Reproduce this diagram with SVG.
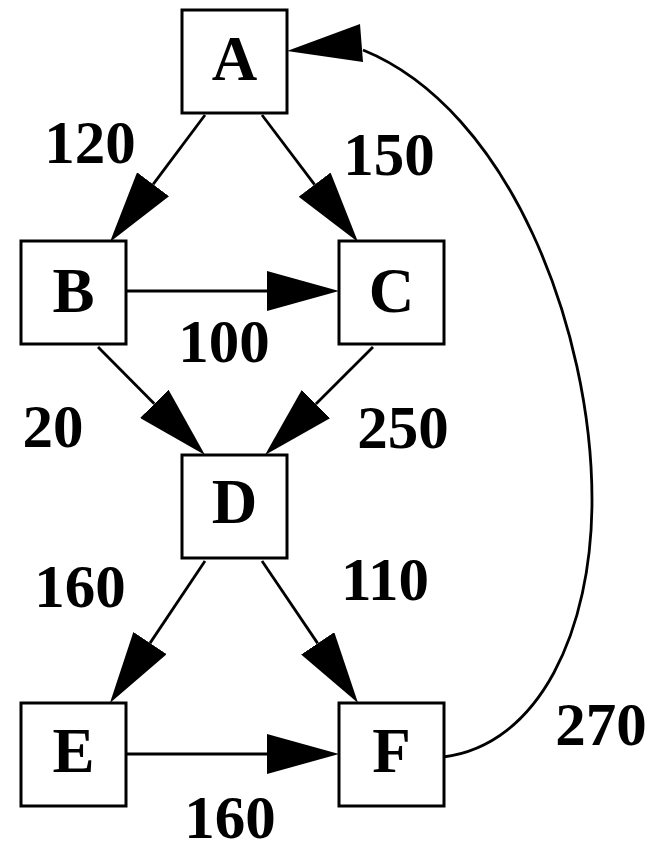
<svg xmlns="http://www.w3.org/2000/svg" width="666" height="851" viewBox="0 0 666 851">
<style>
.node rect{fill:#fff;stroke:#000;stroke-width:3}
.node text{font-family:"Liberation Serif","Times New Roman",serif;font-weight:bold;font-size:63px;text-anchor:middle;fill:#000}
.edge line,.edge path{stroke:#000;stroke-width:2.8;fill:none}
.lbl{font-family:"Liberation Serif","Times New Roman",serif;font-weight:bold;font-size:61px;text-anchor:middle;fill:#000}
</style>
<defs>
<marker id="arr" markerUnits="userSpaceOnUse" viewBox="0 0 72 40" refX="0" refY="20" markerWidth="72" markerHeight="40" orient="auto">
<path d="M0,0 L72,20 L0,40 z" fill="#000"/>
</marker>
</defs>
<rect width="666" height="851" fill="#fff"/>
<g id="connectors" class="edge">
<line x1="205" y1="115" x2="153.1" y2="184.3" marker-end="url(#arr)"/>
<line x1="262" y1="115" x2="314.6" y2="184.6" marker-end="url(#arr)"/>
<line x1="126" y1="291" x2="267" y2="291" marker-end="url(#arr)"/>
<line x1="98" y1="347" x2="154.3" y2="403.8" marker-end="url(#arr)"/>
<line x1="373" y1="347" x2="315.9" y2="404.1" marker-end="url(#arr)"/>
<line x1="205" y1="561" x2="150" y2="643.1" marker-end="url(#arr)"/>
<line x1="262" y1="561" x2="317.7" y2="643.4" marker-end="url(#arr)"/>
<line x1="126" y1="754" x2="267" y2="754" marker-end="url(#arr)"/>
<path d="M443,757 C540,745 592,630 592,500 C592,330 510,110 363,50"/>
<polygon points="287,51 360,24 363,62" fill="#000"/>
</g>
<g id="labels">
<text class="lbl" x="90" y="163">120</text>
<text class="lbl" x="389" y="175">150</text>
<text class="lbl" x="224" y="362">100</text>
<text class="lbl" x="53" y="447">20</text>
<text class="lbl" x="403" y="448">250</text>
<text class="lbl" x="80" y="607">160</text>
<text class="lbl" x="385" y="600">110</text>
<text class="lbl" x="601" y="745">270</text>
<text class="lbl" x="230" y="838">160</text>
</g>
<g id="node-A" class="node"><rect x="182" y="10" width="105" height="103"/><text x="234.5" y="80">A</text></g>
<g id="node-B" class="node"><rect x="21" y="241" width="105" height="103"/><text x="73.5" y="312">B</text></g>
<g id="node-C" class="node"><rect x="339" y="241" width="105" height="103"/><text x="391.5" y="312">C</text></g>
<g id="node-D" class="node"><rect x="182" y="455" width="105" height="103"/><text x="234.5" y="523">D</text></g>
<g id="node-E" class="node"><rect x="21" y="703" width="105" height="103"/><text x="73.5" y="772">E</text></g>
<g id="node-F" class="node"><rect x="339" y="703" width="105" height="103"/><text x="391.5" y="772">F</text></g>
</svg>
